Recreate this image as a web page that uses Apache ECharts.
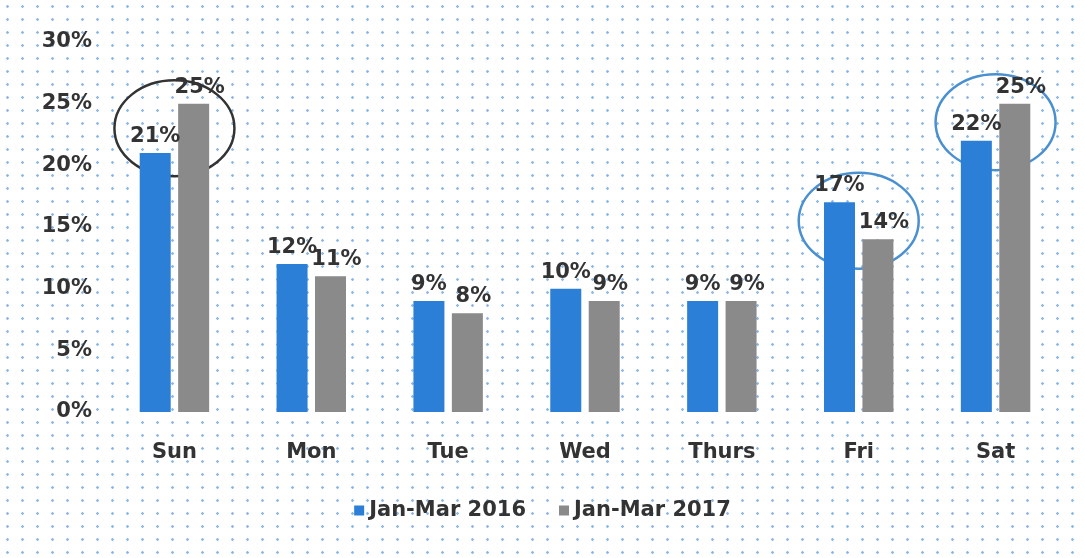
<!DOCTYPE html>
<html>
<head>
<meta charset="utf-8">
<script src="https://cdn.jsdelivr.net/npm/echarts@6/dist/echarts.min.js"></script>
<style>
  html, body {
    margin: 0;
    padding: 0;
  }
  body {
    background:
      radial-gradient(circle, rgba(70, 140, 215, 0.6) 1px, transparent 1.6px) 0 0 / 15px 13px,
      #fff;
  }
  #chart {
    width: 1085px;
    height: 558px;
  }
</style>
</head>
<body>
<div id="chart"></div>
<script>
// 星期分类
const days = ['Sun', 'Mon', 'Tue', 'Wed', 'Thurs', 'Fri', 'Sat']
// 两个时段的占比（%）
const share2016 = [21, 12, 9, 10, 9, 17, 22]
const share2017 = [25, 11, 8, 9, 9, 14, 25]
const seriesNames = ['Jan-Mar 2016', 'Jan-Mar 2017']
// 画圈标注的分类
const circled = [
  { day: 'Sun', color: '#333' },
  { day: 'Fri', color: '#4a90d0' },
  { day: 'Sat', color: '#4a90d0' }
]

const chart = echarts.init(document.getElementById('chart'))

const labelFont = {
  fontFamily: 'DejaVu Sans, Verdana, sans-serif',
  fontWeight: 'bold',
  fontSize: 21,
  color: '#333'
}

const option = {
  animation: false,
  textStyle: { fontFamily: 'DejaVu Sans, Verdana, sans-serif' },
  grid: {
    left: 106,
    right: 21,
    top: 42,
    bottom: 146
  },
  legend: {
    bottom: 32,
    left: 'center',
    itemWidth: 10,
    itemHeight: 10,
    itemGap: 33,
    icon: 'rect',
    textStyle: { ...labelFont, fontSize: 21 },
    data: seriesNames
  },
  xAxis: {
    type: 'category',
    data: days,
    axisLine: { show: false },
    axisTick: { show: false },
    axisLabel: { ...labelFont, margin: 30 }
  },
  yAxis: {
    type: 'value',
    min: 0,
    max: 30,
    interval: 5,
    splitLine: { show: false },
    axisLine: { show: false },
    axisTick: { show: false },
    axisLabel: {
      ...labelFont,
      margin: 14,
      formatter: '{value}%'
    }
  },
  series: [
    {
      name: seriesNames[0],
      type: 'bar',
      data: share2016,
      barWidth: 31,
      barGap: '24%',
      itemStyle: { color: '#2b7fd6' },
      label: {
        show: true,
        position: 'top',
        offset: [0, 0],
        distance: 6,
        formatter: '{c}%',
        ...labelFont
      }
    },
    {
      name: seriesNames[1],
      type: 'bar',
      data: share2017,
      barWidth: 31,
      itemStyle: { color: '#8a8a8a' },
      label: {
        show: true,
        position: 'top',
        offset: [6, 0],
        distance: 6,
        formatter: '{c}%',
        ...labelFont
      }
    }
  ]
}

chart.setOption(option)

// 根据数据位置绘制圈注
function drawCircles() {
  const graphics = circled.map(item => {
    const i = days.indexOf(item.day)
    const mid = (share2016[i] + share2017[i]) / 2
    const pt = chart.convertToPixel({ xAxisIndex: 0, yAxisIndex: 0 }, [i, mid])
    return {
      type: 'ellipse',
      shape: { cx: pt[0], cy: pt[1], rx: 60, ry: 48 },
      style: { fill: 'none', stroke: item.color, lineWidth: 2.5 },
      silent: true
    }
  })
  chart.setOption({ graphic: graphics })
}

drawCircles()
</script>
</body>
</html>
